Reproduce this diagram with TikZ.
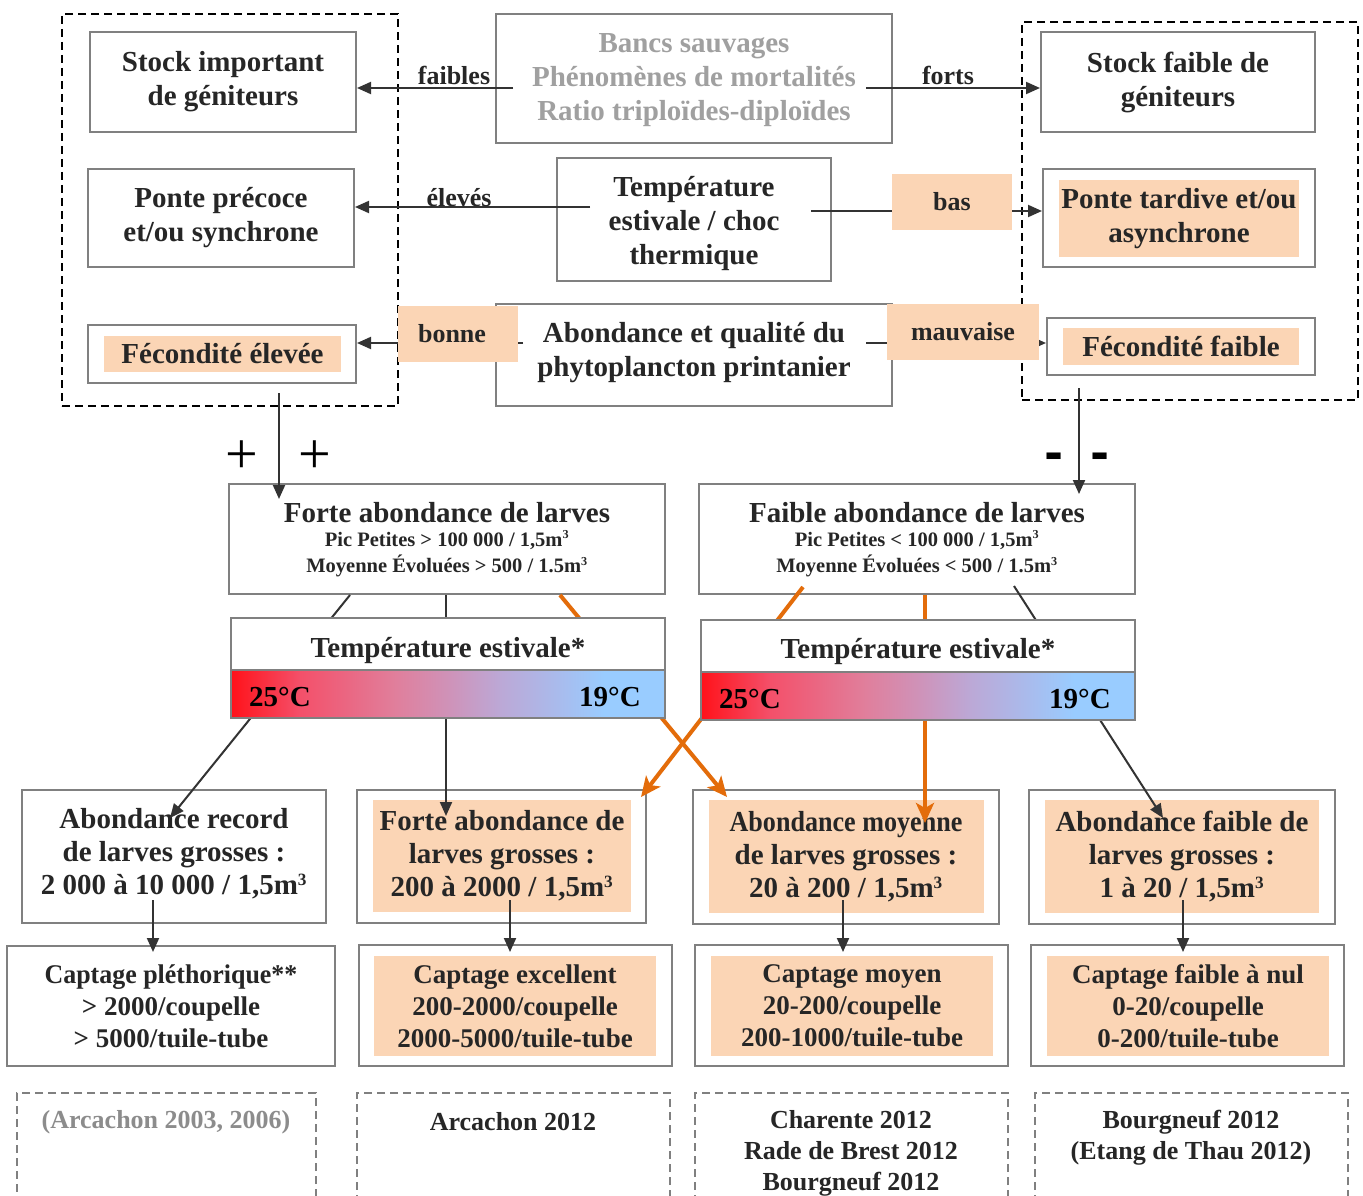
\documentclass[tikz,border=0pt]{standalone}
\usepackage{fontspec}
\setmainfont{Liberation Serif}
\newfontfamily\dvsans{DejaVu Sans}
\usepackage{graphicx}
\usetikzlibrary{arrows.meta}
\definecolor{bgray}{HTML}{808080}
\definecolor{peach}{HTML}{FBD5B5}
\definecolor{dorange}{HTML}{E36C0A}
\definecolor{ink}{HTML}{262626}
\definecolor{lgtxt}{HTML}{A0A0A0}
\definecolor{mgtxt}{HTML}{8C8C8C}
\definecolor{arrgray}{HTML}{333333}
\definecolor{gA}{HTML}{FF121A}
\definecolor{gB}{HTML}{F4506A}
\definecolor{gC}{HTML}{E07F9C}
\definecolor{gD}{HTML}{CF92B8}
\definecolor{gE}{HTML}{BCA8D6}
\definecolor{gF}{HTML}{ABB9EA}
\definecolor{gG}{HTML}{99CCFF}
\pgfdeclarehorizontalshading{tempgrad}{100bp}{color(0bp)=(gA); color(25bp)=(gA); color(33bp)=(gB); color(44bp)=(gC); color(50bp)=(gD); color(56bp)=(gE); color(62bp)=(gF); color(68bp)=(gG); color(100bp)=(gG)}
\newcommand\ftmain{\bfseries\fontsize{29}{34}\selectfont}
\newcommand\ftlab{\bfseries\fontsize{26}{30}\selectfont}
\newcommand\ftsmall{\bfseries\fontsize{20.5}{25}\selectfont}
\newcommand\ftlow{\bfseries\fontsize{29}{33}\selectfont}
\newcommand\ftcap{\bfseries\fontsize{27}{32}\selectfont}
\newcommand\ftbot{\bfseries\fontsize{26}{31}\selectfont}
\newcommand\ftplus{\fontsize{58}{58}\selectfont}
\newcommand\ftminus{\dvsans\bfseries\fontsize{46}{46}\selectfont}
\newcommand\cubed{\textsuperscript{\scalebox{0.85}{3}}}
\begin{document}
\begin{tikzpicture}[x=1pt,y=-1pt,
  box/.style={draw=bgray, line width=2pt, fill=white, inner sep=0pt, align=center, text=ink, font=\ftmain},
  fillbox/.style={fill=peach, inner sep=0pt, align=center, text=ink, font=\ftmain},
  labbox/.style={fill=peach, inner sep=0pt, text=ink, font=\ftlab, minimum height=56pt},
  plainlab/.style={inner sep=0pt, text=ink, font=\ftlab},
  txt/.style={inner sep=0pt, align=center, text=ink, font=\ftmain},
  arr/.style={draw=arrgray, line width=2pt, -{Triangle[length=14pt,width=12pt]}},
  oarr/.style={draw=dorange, line width=4pt, -{Stealth[length=20pt,width=18pt,inset=5pt]}},
  dbox/.style={draw=black, line width=2pt, dash pattern=on 8pt off 5pt, inner sep=0pt},
  gdbox/.style={draw=bgray, line width=1.6pt, dash pattern=on 8pt off 5pt, inner sep=0pt},
  grad/.style={draw=bgray, line width=2pt, shade, shading=tempgrad, inner sep=0pt, minimum width=434pt, minimum height=48pt}
]
\fill[white] (0,0) rectangle (1363,1196);
\useasboundingbox (0,0) rectangle (1363,1196);

% ---------- dashed groups ----------
\node[dbox, minimum width=336pt, minimum height=392pt] (gl) at (230,210) {};
\node[dbox, minimum width=336pt, minimum height=378pt] (gr) at (1190,211) {};

% ---------- top boxes ----------
\node[box, minimum width=266pt, minimum height=100pt] (sig) at (223,82) {Stock important\\de géniteurs};
\node[box, minimum width=396pt, minimum height=129pt, text=lgtxt] (bs) at (694,78.5) {};
\node[txt, text=lgtxt] (bst) at (694,80) {Bancs sauvages\\Phénomènes de mortalités\\Ratio triploïdes-diploïdes};
\node[box, minimum width=274pt, minimum height=100pt] (sfg) at (1178,82) {Stock faible de\\géniteurs};
\node[box, minimum width=266pt, minimum height=98pt] (pp) at (221,218) {Ponte précoce\\et/ou synchrone};
\node[box, minimum width=274pt, minimum height=123pt] (ts) at (694,219.5) {};
\node[txt] (tst) at (694,223.5) {Température\\estivale / choc\\thermique};
\node[box, minimum width=272pt, minimum height=98pt] (pt) at (1179,218) {};
\node[fillbox, minimum width=240pt, minimum height=77pt] (ptt) at (1179,218.5) {Ponte tardive et/ou\\asynchrone};
\node[box, minimum width=268pt, minimum height=58pt] (fe) at (222,354) {};
\node[fillbox, minimum width=237pt, minimum height=36pt] (fet) at (222.5,354) {Fécondité élevée};
\node[box, minimum width=396pt, minimum height=102pt] (ap) at (694,355) {};
\node[txt] (apt) at (694,353) {Abondance et qualité du\\phytoplancton printanier};
\node[box, minimum width=268pt, minimum height=57pt] (ff) at (1181,346.5) {};
\node[fillbox, minimum width=236pt, minimum height=37pt] (fft) at (1181,346.5) {Fécondité faible};

% ---------- top connectors ----------
\coordinate (cfa) at (513,88);
\coordinate (cfo) at (866,88);
\coordinate (cel) at (590,207);
\coordinate (cba) at (811,211);
\coordinate (cbo) at (523,343);
\coordinate (cma) at (866,343);
\draw[arr] (cfa) -- (cfa -| sig.east);
\draw[arr] (cfo) -- (cfo -| sfg.west);
\draw[arr] (cel) -- (cel -| pp.east);
\draw[arr] (cba) -- (cba -| pt.west);
\draw[arr] (cbo) -- (cbo -| fe.east);
\draw[arr] (cma) -- (cma -| ff.west);

\node[plainlab] (lfa) at (454,75) {faibles};
\node[plainlab] (lfo) at (948,75) {forts};
\node[plainlab] (lel) at (459,198) {élevés};
\node[labbox, minimum width=120pt] (lba) at (952,202) {bas};
\node[labbox, minimum width=120pt] (lbo) at (458,334) {bonne\hspace*{12pt}};
\node[labbox, minimum width=152pt] (lma) at (963,332) {mauvaise};

% ---------- middle ----------
\node[box, minimum width=436pt, minimum height=110pt] (fl) at (447,539) {};
\node[txt] (flt) at (447,513) {Forte abondance de larves};
\node[txt, font=\ftsmall] (fl1) at (447,540) {Pic Petites > 100 000 / 1,5m\cubed};
\node[txt, font=\ftsmall] (fl2) at (447,566) {Moyenne Évoluées > 500 / 1.5m\cubed};
\node[box, minimum width=436pt, minimum height=110pt] (fb) at (917,539) {};
\node[txt] (fbt) at (917,513) {Faible abondance de larves};
\node[txt, font=\ftsmall] (fb1) at (917,540) {Pic Petites < 100 000 / 1,5m\cubed};
\node[txt, font=\ftsmall] (fb2) at (917,566) {Moyenne Évoluées < 500 / 1.5m\cubed};

\coordinate (d1) at (279,393);
\coordinate (d2) at (1079,388);
\draw[arr] (d1) -- ([yshift=-16pt] d1 |- fl.north);
\draw[arr] (d2) -- ([yshift=-11pt] d2 |- fb.north);
\node[txt, font=\ftplus, text=black] (pl1) at (242,457) {+};
\node[txt, font=\ftplus, text=black] (pl2) at (315,457) {+};
\node[txt, font=\ftminus, text=black] (mn1) at (1054,461) {-};
\node[txt, font=\ftminus, text=black] (mn2) at (1100,461) {-};

% ---------- lower boxes ----------
\node[box, minimum width=304pt, minimum height=133pt] (ar) at (174,856.5) {};
\node[txt, font=\ftlow] (art) at (174,853.5) {Abondance record\\de larves grosses :\\2 000 à 10 000 / 1,5m\cubed};
\node[box, minimum width=289pt, minimum height=133pt] (fg) at (501.5,856.5) {};
\node[fillbox, minimum width=258pt, minimum height=112pt, font=\ftlow] (fgt) at (502,856) {Forte abondance de\\larves grosses :\\200 à 2000 / 1,5m\cubed};
\node[box, minimum width=306pt, minimum height=134pt] (am) at (846,856.5) {};
\node[fillbox, minimum width=275pt, minimum height=113pt, font=\ftlow] (amt) at (846,856.5) {\scalebox{0.9}[1]{Abondance moyenne}\\de larves grosses :\\20 à 200 / 1,5m\cubed};
\node[box, minimum width=306pt, minimum height=134pt] (af) at (1182,856.5) {};
\node[fillbox, minimum width=274pt, minimum height=113pt, font=\ftlow] (aft) at (1182,856.5) {Abondance faible de\\larves grosses :\\1 à 20 / 1,5m\cubed};

\node[box, minimum width=328pt, minimum height=120pt, font=\ftcap] (cp) at (171,1006) {\scalebox{0.96}[1]{Captage pléthorique**}\\> 2000/coupelle\\> 5000/tuile-tube};
\node[box, minimum width=313pt, minimum height=121pt] (ce) at (515.5,1005.5) {};
\node[fillbox, minimum width=282pt, minimum height=100pt, font=\ftcap] (cet) at (515,1006) {Captage excellent\\200-2000/coupelle\\2000-5000/tuile-tube};
\node[box, minimum width=313pt, minimum height=121pt] (cm) at (851.5,1005.5) {};
\node[fillbox, minimum width=282pt, minimum height=100pt, font=\ftcap] (cmt) at (852,1006) {Captage moyen\\20-200/coupelle\\200-1000/tuile-tube};
\node[box, minimum width=313pt, minimum height=121pt] (cf) at (1187.5,1005.5) {};
\node[fillbox, minimum width=282pt, minimum height=100pt, font=\ftcap] (cft) at (1188,1006) {Captage faible à nul\\0-20/coupelle\\0-200/tuile-tube};

\coordinate (k1) at (153,900);
\coordinate (k2) at (510,900);
\coordinate (k3) at (843,900);
\coordinate (k4) at (1183,900);
\draw[arr] (k1) -- ([yshift=-7pt] k1 |- cp.north);
\draw[arr] (k2) -- ([yshift=-8pt] k2 |- ce.north);
\draw[arr] (k3) -- ([yshift=-8pt] k3 |- cm.north);
\draw[arr] (k4) -- ([yshift=-8pt] k4 |- cf.north);

% ---------- connectors through the temperature bars ----------
\coordinate (x1e) at (170,818);
\coordinate (x3e) at (727,797);
\coordinate (x4s) at (803,587);
\coordinate (x4e) at (641,797);
\coordinate (x6s) at (1014,586);
\coordinate (x6e) at (1163,818);
\draw[arr] ([xshift=-97pt]fl.south) -- (x1e);
\draw[arr] ([xshift=-1pt]fl.south) -- ++(0,221);
\draw[oarr] ([xshift=113pt]fl.south) -- (x3e);
\draw[oarr] (x4s) -- (x4e);
\draw[oarr] ([xshift=8pt]fb.south) -- ++(0,228);
\draw[arr] (x6s) -- (x6e);

% ---------- temperature boxes ----------
\node[box, minimum width=434pt, minimum height=52pt] (te1) at (448,644) {};
\node[txt] (te1t) at (448,651) {Température estivale*};
\node[grad] (gr1) at (448,694) {};
\node[txt, font=\ftmain, text=black] (t1a) at (280,697) {25°C};
\node[txt, font=\ftmain, text=black] (t1b) at (610,697) {19°C};
\node[box, minimum width=434pt, minimum height=52pt] (te2) at (918,646) {};
\node[txt] (te2t) at (918,652) {Température estivale*};
\node[grad] (gr2) at (918,696) {};
\node[txt, font=\ftmain, text=black] (t2a) at (750,699) {25°C};
\node[txt, font=\ftmain, text=black] (t2b) at (1080,699) {19°C};

% ---------- bottom dashed boxes ----------
\node[gdbox, minimum width=299pt, minimum height=130pt] (b1) at (166.5,1158) {};
\node[gdbox, minimum width=313pt, minimum height=130pt] (b2) at (513.5,1158) {};
\node[gdbox, minimum width=313pt, minimum height=130pt] (b3) at (851.5,1158) {};
\node[gdbox, minimum width=313pt, minimum height=130pt] (b4) at (1191.5,1158) {};
\node[txt, font=\ftbot, text=mgtxt] (b1t) at (166,1122) {(Arcachon 2003, 2006)};
\node[txt, font=\ftbot] (b2t) at (513,1122) {Arcachon 2012};
\node[txt, font=\ftbot] (b3t) at (851,1153) {Charente 2012\\Rade de Brest 2012\\Bourgneuf 2012};
\node[txt, font=\ftbot] (b4t) at (1191,1137.5) {Bourgneuf 2012\\(Etang de Thau 2012)};
\end{tikzpicture}
\end{document}
